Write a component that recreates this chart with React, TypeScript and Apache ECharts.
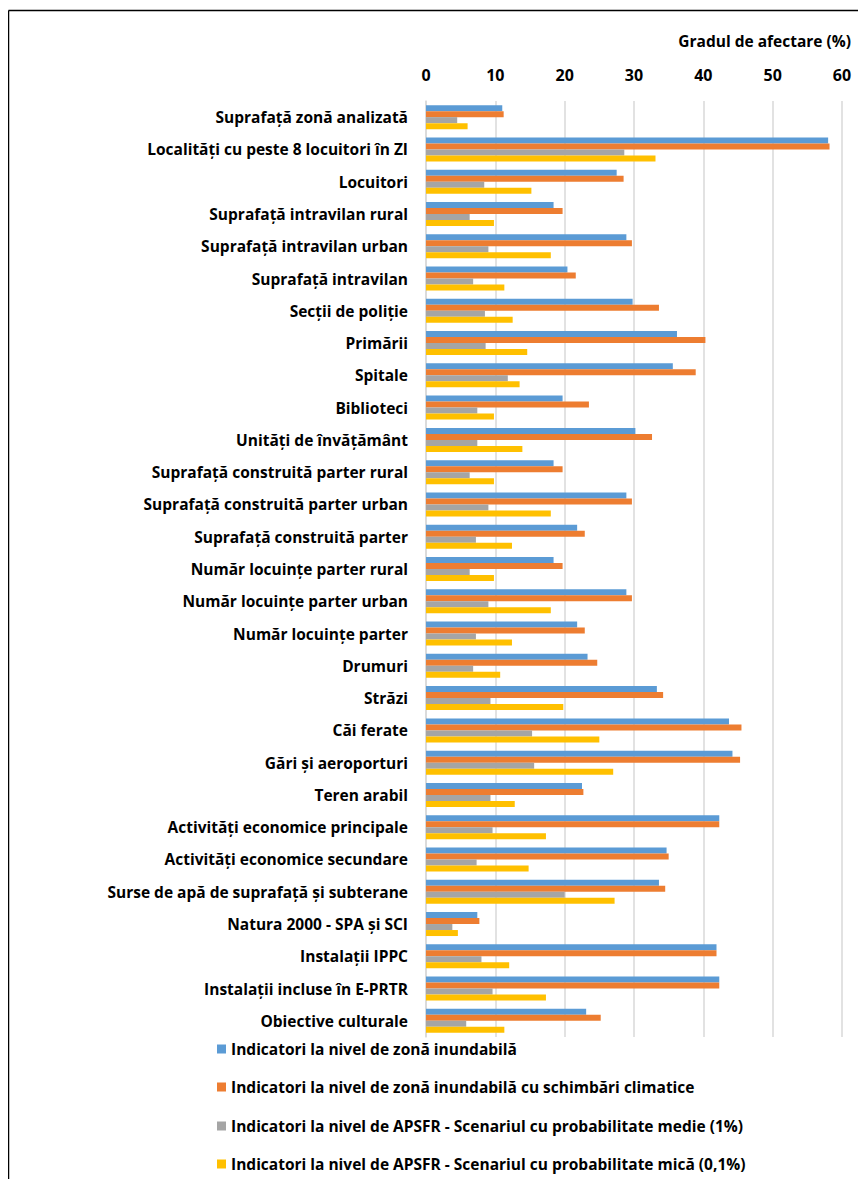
import React, { useEffect, useRef } from "react";
import * as echarts from "echarts";

const categories = [
  "Suprafață zonă analizată",
  "Localități cu peste 8 locuitori în ZI",
  "Locuitori",
  "Suprafață intravilan rural",
  "Suprafață intravilan urban",
  "Suprafață intravilan",
  "Secții de poliție",
  "Primării",
  "Spitale",
  "Biblioteci",
  "Unități de învățământ",
  "Suprafață construită parter rural",
  "Suprafață construită parter urban",
  "Suprafață construită parter",
  "Număr locuințe parter rural",
  "Număr locuințe parter urban",
  "Număr locuințe parter",
  "Drumuri",
  "Străzi",
  "Căi ferate",
  "Gări și aeroporturi",
  "Teren arabil",
  "Activități economice principale",
  "Activități economice secundare",
  "Surse de apă de suprafață și subterane",
  "Natura 2000 - SPA și SCI",
  "Instalații IPPC",
  "Instalații incluse în E-PRTR",
  "Obiective culturale",
];

const zonaInundabila = [
  11.0, 58.0, 27.5, 18.4, 28.9, 20.4, 29.8, 36.2, 35.6, 19.7, 30.2, 18.4, 28.9, 21.8,
  18.4, 28.9, 21.8, 23.3, 33.3, 43.7, 44.2, 22.5, 42.3, 34.7, 33.6, 7.4, 41.9, 42.3, 23.1,
];
const zonaInundabilaCC = [
  11.2, 58.2, 28.5, 19.7, 29.7, 21.6, 33.6, 40.3, 38.9, 23.5, 32.6, 19.7, 29.7, 22.9,
  19.7, 29.7, 22.9, 24.7, 34.2, 45.5, 45.3, 22.7, 42.3, 35.0, 34.5, 7.7, 41.9, 42.3, 25.2,
];
const apsfrMedie = [
  4.5, 28.6, 8.4, 6.3, 9.0, 6.8, 8.5, 8.6, 11.8, 7.4, 7.4, 6.3, 9.0, 7.2,
  6.3, 9.0, 7.2, 6.8, 9.3, 15.3, 15.6, 9.3, 9.6, 7.3, 20.0, 3.8, 8.0, 9.6, 5.8,
];
const apsfrMica = [
  6.0, 33.1, 15.2, 9.8, 18.0, 11.3, 12.5, 14.6, 13.5, 9.8, 13.9, 9.8, 18.0, 12.4,
  9.8, 18.0, 12.4, 10.7, 19.8, 25.0, 27.0, 12.8, 17.3, 14.8, 27.2, 4.6, 12.0, 17.3, 11.3,
];

const seriesNames = [
  "Indicatori la nivel de zonă inundabilă",
  "Indicatori la nivel de zonă inundabilă cu schimbări climatice",
  "Indicatori la nivel de APSFR - Scenariul cu probabilitate medie (1%)",
  "Indicatori la nivel de APSFR - Scenariul cu probabilitate mică (0,1%)",
];
const seriesData = [zonaInundabila, zonaInundabilaCC, apsfrMedie, apsfrMica];
const colors = ["#5B9BD5", "#ED7D31", "#A5A5A5", "#FFC000"];

const xTicks = { min: 0, max: 60, interval: 10 };
const axisTitle = "Gradul de afectare (%)";

const FONT = "'Open Sans', sans-serif";

// vertical centres of the legend rows, one legend block per series
const legendRowCentres = [1041, 1079, 1118, 1156];

export default function App() {
  const ref = useRef<HTMLDivElement>(null);

  useEffect(() => {
    if (!ref.current) return;
    const chart = echarts.init(ref.current, null, { renderer: "svg" });
    chart.setOption({
      animation: false,
      backgroundColor: "#fff",
      textStyle: { fontFamily: FONT },
      grid: { left: 418, right: 24, top: 93, bottom: 142, containLabel: false },
      xAxis: {
        type: "value",
        position: "top",
        min: xTicks.min,
        max: xTicks.max,
        interval: xTicks.interval,
        axisLine: { show: false },
        axisTick: { show: false },
        axisLabel: {
          margin: 18,
          color: "#000",
          fontWeight: "bold",
          fontSize: 16,
          fontFamily: FONT,
        },
        splitLine: { lineStyle: { color: "#d9d9d9", width: 1.5 } },
      },
      yAxis: {
        type: "category",
        inverse: true,
        data: categories,
        axisLine: { show: true, lineStyle: { color: "#d9d9d9", width: 1.5 } },
        axisTick: { show: false },
        axisLabel: {
          margin: 18,
          color: "#000",
          fontWeight: "bold",
          fontSize: 15.5,
          fontFamily: FONT,
        },
      },
      legend: seriesNames.map((name, i) => ({
        orient: "horizontal",
        left: 209,
        top: legendRowCentres[i] - 10,
        padding: 0,
        icon: "rect",
        itemWidth: 9,
        itemHeight: 9,
        textStyle: {
          color: "#000",
          fontWeight: "bold",
          fontSize: 15.5,
          lineHeight: 20,
          fontFamily: FONT,
        },
        data: [name],
      })),
      graphic: [
        {
          type: "line",
          shape: { x1: 0.5, y1: 2.5, x2: 858, y2: 2.5 },
          style: { stroke: "#000", lineWidth: 1.5 },
        },
        {
          type: "line",
          shape: { x1: 0.5, y1: 2.5, x2: 0.5, y2: 1171 },
          style: { stroke: "#000", lineWidth: 1.5 },
        },
        {
          type: "text",
          right: 15,
          top: 25,
          style: {
            text: axisTitle,
            fill: "#000",
            font: `bold 15.5px ${FONT}`,
          },
        },
      ],
      series: seriesNames.map((name, i) => ({
        name,
        type: "bar",
        data: seriesData[i],
        barWidth: 6,
        barGap: "0%",
        itemStyle: { color: colors[i] },
      })),
    });
    return () => chart.dispose();
  }, []);

  return <div ref={ref} style={{ width: 858, height: 1171 }} />;
}
